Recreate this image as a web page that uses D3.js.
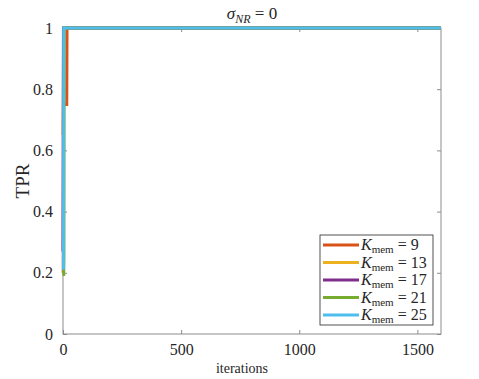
<!DOCTYPE html>
<html>
<head>
<meta charset="utf-8">
<script src="https://cdn.jsdelivr.net/npm/d3@7"></script>
<style>
  body { margin: 0; background: #fff; }
  svg text { font-family: "Liberation Serif", "DejaVu Serif", serif; fill: #262626; }
</style>
</head>
<body>
<div id="chart"></div>
<script>
// TPR vs. iterations for different memory sizes
var kmem = [9, 13, 17, 21, 25]
var colors = ["#D95319", "#EDB120", "#7E2F8E", "#77AC30", "#4DBEEE"]
var iters9 = [1, 2, 16, 17, 1600]
var tpr9 = [0.2, 0.75, 0.75, 1, 1]
var iters13 = [0, 1, 2, 1600]
var tpr13 = [0.65, 0.75, 1, 1]
var iters17 = [0, 1, 2, 1600]
var tpr17 = [0.27, 0.65, 1, 1]
var iters21 = [3, 4, 5, 1600]
var tpr21 = [0.19, 0.25, 1, 1]
var iters25 = [2, 3, 1600]
var tpr25 = [0.21, 1, 1]
var xTicks = [0, 500, 1000, 1500]
var yTicks = [0, 0.2, 0.4, 0.6, 0.8, 1]

var series = [
  { k: kmem[0], x: iters9, y: tpr9 },
  { k: kmem[1], x: iters13, y: tpr13 },
  { k: kmem[2], x: iters17, y: tpr17 },
  { k: kmem[3], x: iters21, y: tpr21 },
  { k: kmem[4], x: iters25, y: tpr25 }
]

var W = 479, H = 379
var margin = { top: 28, right: 38, bottom: 45, left: 63 }
var width = W - margin.left - margin.right,
    height = H - margin.top - margin.bottom

var svg = d3.select("#chart").append("svg")
  .attr("width", W).attr("height", H)

var g = svg.append("g")
  .attr("transform", "translate(" + margin.left + "," + margin.top + ")")

var x = d3.scaleLinear().domain([0, 1600]).range([0, width])
var y = d3.scaleLinear().domain([0, 1]).range([height, 0])

// box
g.append("rect")
  .attr("width", width).attr("height", height)
  .attr("fill", "none").attr("stroke", "#8c8c8c").attr("stroke-width", 1)

function styleAxis(sel) {
  sel.attr("font-family", "Liberation Serif")
  sel.select(".domain").remove()
  sel.selectAll(".tick line").attr("stroke", "#8c8c8c")
  sel.selectAll(".tick text").style("font-size", "16px")
    .style("font-family", "'Liberation Serif', serif").attr("fill", "#333")
}

g.append("g").attr("transform", "translate(0," + height + ")")
  .call(d3.axisBottom(x).tickValues(xTicks).tickSizeInner(-4).tickSizeOuter(0).tickPadding(10).tickFormat(d3.format("d")))
  .call(styleAxis)
g.append("g")
  .call(d3.axisTop(x).tickValues(xTicks).tickSizeInner(-4).tickSizeOuter(0).tickFormat(""))
  .call(styleAxis)
g.append("g")
  .call(d3.axisLeft(y).tickValues(yTicks).tickSizeInner(-4).tickSizeOuter(0).tickPadding(10).tickFormat(d3.format("")))
  .call(styleAxis)
g.append("g").attr("transform", "translate(" + width + ",0)")
  .call(d3.axisRight(y).tickValues(yTicks).tickSizeInner(-4).tickSizeOuter(0).tickFormat(""))
  .call(styleAxis)

var line = d3.line()
  .x(function (d) { return x(d[0]) })
  .y(function (d) { return y(d[1]) })

series.forEach(function (s, i) {
  g.append("path")
    .datum(s.x.map(function (v, j) { return [v, s.y[j]] }))
    .attr("fill", "none")
    .attr("stroke", colors[i])
    .attr("stroke-width", 3)
    .attr("d", line)
})

// title
var title = svg.append("text")
  .attr("x", margin.left + width / 2).attr("y", 19)
  .attr("text-anchor", "middle").style("font-size", "17px")
title.append("tspan").style("font-style", "italic").text("σ")
title.append("tspan").attr("dy", 4).style("font-size", "12px").style("font-style", "italic").text("NR")
title.append("tspan").attr("dy", -4).text(" = 0")

svg.append("text")
  .attr("transform", "translate(29," + (margin.top + height / 2) + ") rotate(-90)")
  .attr("text-anchor", "middle").style("font-size", "19px").text("TPR")

svg.append("text")
  .attr("x", margin.left + width / 2 - 10).attr("y", 373)
  .attr("text-anchor", "middle").style("font-size", "14px").text("iterations")

// legend
var lg = svg.append("g").attr("transform", "translate(320,235)")
lg.append("rect").attr("width", 113).attr("height", 90)
  .attr("fill", "#fff").attr("stroke", "#262626").attr("stroke-width", 0.8)
series.forEach(function (s, i) {
  var yy = 10 + i * 17.5
  lg.append("line").attr("x1", 3).attr("x2", 39).attr("y1", yy).attr("y2", yy)
    .attr("stroke", colors[i]).attr("stroke-width", 3)
  var t = lg.append("text").attr("x", 41).attr("y", yy + 5).style("font-size", "16px")
  t.append("tspan").style("font-style", "italic").text("K")
  t.append("tspan").attr("dy", 3).style("font-size", "11px").text("mem")
  t.append("tspan").attr("dy", -3).text(" = " + s.k)
})
</script>
</body>
</html>
